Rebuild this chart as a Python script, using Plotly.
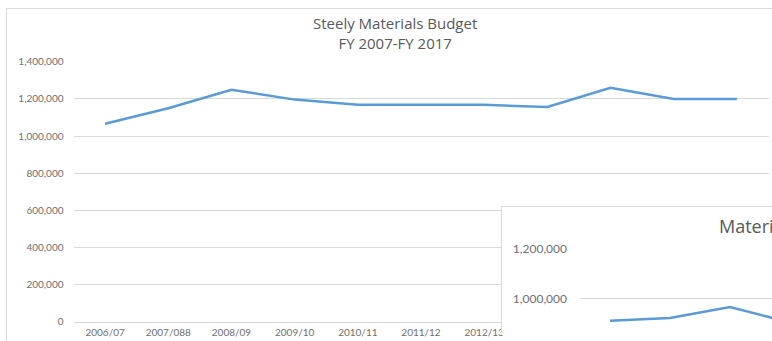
import plotly.graph_objects as go

W, H = 772, 341

# Steely Materials budget by fiscal year
fiscal_years = ["2006/07", "2007/088", "2008/09", "2009/10", "2010/11", "2011/12",
                "2012/13", "2013/14", "2014/15", "2015/16", "2016/17"]
budget = [1066000, 1150000, 1249000, 1196000, 1168000, 1168000,
          1168000, 1156000, 1260000, 1199000, 1199000]

# Second chart (materials) stacked over the lower right corner
materials_years = ["2006/07", "2007/08", "2008/09", "2009/10"]
materials = [912000, 923000, 967000, 905000]

main_ticks = [0, 200000, 400000, 600000, 800000, 1000000, 1200000, 1400000]
inset_ticks = [1000000, 1200000]
# year labels that are not hidden behind the second chart
shown_year_labels = fiscal_years[:7]

title_text = "Steely Materials Budget<br>FY 2007-FY 2017"
inset_title = "Materials Budget"

BLUE = "#5b9bd5"
GRID = "#d9d9d9"
TEXT = "#595959"
TICK = "#6f6f6f"
FONT = "Lato"
TITLE_FONT = "Open Sans"


def px(x):
    return x / W


def py(y):
    # vertical layout position, measured from the top of the page
    return 1 - ((y - 7.3) / 0.9586) / H


fig = go.Figure()

fig.add_trace(go.Scatter(
    x=fiscal_years, y=budget, mode="lines",
    line=dict(color=BLUE, width=2.5),
    xaxis="x", yaxis="y", hoverinfo="skip", showlegend=False,
))

# empty panel that gives the second chart its white card and frame
fig.add_trace(go.Scatter(
    x=[], y=[], mode="lines", xaxis="x2", yaxis="y2",
    hoverinfo="skip", showlegend=False,
))

fig.add_trace(go.Scatter(
    x=materials_years, y=materials, mode="lines",
    line=dict(color=BLUE, width=2.5),
    xaxis="x3", yaxis="y3", hoverinfo="skip", showlegend=False, cliponaxis=True,
))

fig.update_layout(
    width=W, height=H,
    margin=dict(l=0, r=0, t=0, b=0, pad=0),
    paper_bgcolor="white", plot_bgcolor="white",
    font=dict(family=FONT, color=TEXT),
    xaxis=dict(
        domain=[px(73.5), px(768.5)],
        type="category", categoryorder="array", categoryarray=fiscal_years,
        range=[-0.5, 10.5], tickmode="array", tickvals=shown_year_labels,
        showgrid=False, showline=True, linecolor=GRID, linewidth=1,
        ticks="", tickfont=dict(size=10, color=TICK),
        ticklabelstandoff=1, anchor="y", fixedrange=True,
    ),
    yaxis=dict(
        domain=[py(321), py(61)],
        range=[0, 1400000], tickmode="array", tickvals=main_ticks,
        tickformat=",", showgrid=True, gridcolor=GRID, gridwidth=1,
        zeroline=False, showline=False, ticks="",
        tickfont=dict(size=10, color=TICK), ticklabelstandoff=9,
        anchor="x", fixedrange=True,
    ),
    xaxis2=dict(
        domain=[px(501.5), 1], range=[0, 1], side="top",
        showgrid=False, zeroline=False, showticklabels=False, ticks="",
        showline=True, linecolor=GRID, linewidth=1, anchor="y2", fixedrange=True,
    ),
    yaxis2=dict(
        domain=[0, py(206.5)], range=[0, 1],
        showgrid=False, zeroline=False, showticklabels=False, ticks="",
        showline=True, linecolor=GRID, linewidth=1, anchor="x2", fixedrange=True,
    ),
    xaxis3=dict(
        domain=[px(580), 1],
        type="category", categoryorder="array", categoryarray=materials_years,
        range=[-0.5, 2.7],
        showgrid=False, showticklabels=False, ticks="", showline=False,
        anchor="y3", fixedrange=True,
    ),
    yaxis3=dict(
        domain=[0, py(248)],
        range=[855000, 1200000], tickmode="array", tickvals=inset_ticks,
        tickformat=",", showgrid=True, gridcolor=GRID, gridwidth=1,
        zeroline=False, showline=False, ticks="",
        tickfont=dict(size=12, color=TICK), ticklabelstandoff=12,
        anchor="x3", fixedrange=True,
    ),
    shapes=[
        # outer frame of the main chart
        dict(type="rect", xref="paper", yref="paper",
             x0=px(6.5), x1=1.1, y0=-0.1, y1=min(py(7.8), 1 - 0.5 / H),
             line=dict(color=GRID, width=1), fillcolor="rgba(0,0,0,0)",
             layer="below"),
    ],
    annotations=[
        dict(text=title_text,
             xref="paper", yref="paper", x=px(395), y=py(32.5),
             xanchor="center", yanchor="middle", showarrow=False,
             font=dict(family=TITLE_FONT, size=15, color=TEXT), align="center"),
        dict(text=inset_title,
             xref="paper", yref="paper", x=px(717), y=py(225),
             xanchor="left", yanchor="middle", showarrow=False,
             font=dict(family=TITLE_FONT, size=18, color=TEXT), align="left"),
    ],
)

fig.write_html("out.html")
